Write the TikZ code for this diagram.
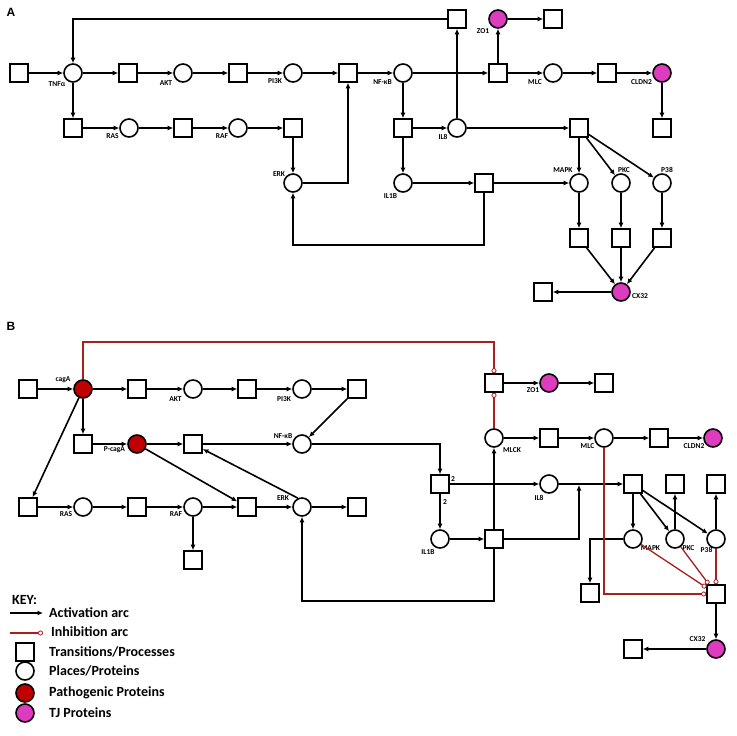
\documentclass[tikz,border=0pt]{standalone}
\usepackage{fontspec}
\setmainfont{Carlito}
\newfontfamily\arialfont{Liberation Sans}
\usetikzlibrary{arrows.meta}
\definecolor{pathred}{RGB}{192,0,0}
\definecolor{tjpink}{RGB}{222,60,190}
\definecolor{inhred}{RGB}{170,30,30}
\begin{document}
\begin{tikzpicture}[x=1pt,y=-1pt,
 tr/.style={draw,rectangle,minimum size=18pt,inner sep=0pt,line width=1.6pt,fill=white},
 pl/.style={draw,circle,minimum size=18pt,inner sep=0pt,line width=1.6pt,fill=white},
 pat/.style={pl,fill=pathred},
 tj/.style={pl,fill=tjpink},
 act/.style={line width=1.6pt,-{Latex[length=5.5pt,width=5pt]}},
 inh/.style={draw=inhred,line width=1.3pt,-{Circle[open,length=5pt,width=5pt,line width=0.8pt]}},
 lbl/.style={font=\bfseries\fontsize{7.5}{8}\selectfont,inner sep=0pt},
 keyt/.style={font=\bfseries\fontsize{14}{16}\selectfont,inner sep=0pt,anchor=west},
 panel/.style={font=\arialfont\bfseries\fontsize{12}{14}\selectfont,inner sep=0pt},
]
\useasboundingbox[fill=white] (0,0) rectangle (737,736);
\node[panel] (pA) at (11,12.5) {A};
\node[panel] (pB) at (11,326.5) {B};
% ================= Panel A =================
\node[tr] (a_t0) at (19,73) {};
\node[pl] (a_tnf) at (73,73) {};
\node[tr] (a_t1) at (128,73) {};
\node[pl] (a_akt) at (183,73) {};
\node[tr] (a_t2) at (238,73) {};
\node[pl] (a_pi3k) at (293,73) {};
\node[tr] (a_t3) at (348,73) {};
\node[pl] (a_nfkb) at (403,73) {};
\node[tr] (a_t4) at (498,73) {};
\node[tj] (a_zo1) at (498,19) {};
\node[tr] (a_t5) at (553,19) {};
\node[pl] (a_mlc) at (553,73) {};
\node[tr] (a_t6) at (607,73) {};
\node[tj] (a_cldn) at (662,73) {};
\node[tr] (a_t7) at (662,128) {};
\node[tr] (a_ttop) at (457,19) {};
\node[tr] (a_t8) at (73,128) {};
\node[pl] (a_ras) at (129,128) {};
\node[tr] (a_t9) at (183,128) {};
\node[pl] (a_raf) at (238,128) {};
\node[tr] (a_t10) at (293,128) {};
\node[pl] (a_erk) at (293,183) {};
\node[tr] (a_t11) at (403,128) {};
\node[pl] (a_il8) at (457,128) {};
\node[tr] (a_t12) at (579,128) {};
\node[pl] (a_il1b) at (403,183) {};
\node[tr] (a_t13) at (484,183) {};
\node[pl] (a_mapk) at (579,183) {};
\node[pl] (a_pkc) at (621,183) {};
\node[pl] (a_p38) at (662,183) {};
\node[tr] (a_t14) at (579,238) {};
\node[tr] (a_t15) at (621,238) {};
\node[tr] (a_t16) at (662,238) {};
\node[tj] (a_cx32) at (621,292) {};
\node[tr] (a_t17) at (543,292) {};
\coordinate (a_c1) at (293,245);
% labels A
\node[lbl] (la1) at (57,84) {TNFα};
\node[lbl] (la2) at (166,83) {AKT};
\node[lbl] (la3) at (275,81) {PI3K};
\node[lbl] (la4) at (112.5,136) {RAS};
\node[lbl] (la5) at (222,136) {RAF};
\node[lbl] (la6) at (279,174) {ERK};
\node[lbl] (la7) at (382.5,82) {NF-κB};
\node[lbl] (la8) at (483,31.5) {ZO1};
\node[lbl] (la9) at (535,82) {MLC};
\node[lbl] (la10) at (641.5,82) {CLDN2};
\node[lbl] (la11) at (443,136.5) {IL8};
\node[lbl] (la12) at (390.5,196.5) {IL1B};
\node[lbl] (la13) at (563,170) {MAPK};
\node[lbl] (la14) at (624,170) {PKC};
\node[lbl] (la15) at (667,170) {P38};
\node[lbl] (la16) at (640,296) {CX32};
% edges A
\draw[act] (a_t0) -- (a_tnf);
\draw[act] (a_tnf) -- (a_t1);
\draw[act] (a_t1) -- (a_akt);
\draw[act] (a_akt) -- (a_t2);
\draw[act] (a_t2) -- (a_pi3k);
\draw[act] (a_pi3k) -- (a_t3);
\draw[act] (a_t3) -- (a_nfkb);
\draw[act] (a_nfkb) -- (a_t4);
\draw[act] (a_t4) -- (a_zo1);
\draw[act] (a_zo1) -- (a_t5);
\draw[act] (a_t4) -- (a_mlc);
\draw[act] (a_mlc) -- (a_t6);
\draw[act] (a_t6) -- (a_cldn);
\draw[act] (a_cldn) -- (a_t7);
\draw[act] (a_tnf) -- (a_t8);
\draw[act] (a_t8) -- (a_ras);
\draw[act] (a_ras) -- (a_t9);
\draw[act] (a_t9) -- (a_raf);
\draw[act] (a_raf) -- (a_t10);
\draw[act] (a_t10) -- (a_erk);
\draw[act] (a_erk.east) -| (a_t3.south);
\draw[act] (a_nfkb) -- (a_t11);
\draw[act] (a_t11) -- (a_il8);
\draw[act] (a_il8) -- (a_ttop);
\draw[act] (a_ttop.west) -| (a_tnf.north);
\draw[act] (a_t11) -- (a_il1b);
\draw[act] (a_il8) -- (a_t12);
\draw[act] (a_il1b) -- (a_t13);
\draw[act] (a_t13) -- (a_mapk);
\draw[act] (a_t13.south) |- (a_c1) -- (a_erk.south);
\draw[act] (a_t12) -- (a_mapk);
\draw[act] (a_t12) -- (a_pkc);
\draw[act] (a_t12) -- (a_p38);
\draw[act] (a_mapk) -- (a_t14);
\draw[act] (a_pkc) -- (a_t15);
\draw[act] (a_p38) -- (a_t16);
\draw[act] (a_t14) -- (a_cx32);
\draw[act] (a_t15) -- (a_cx32);
\draw[act] (a_t16) -- (a_cx32);
\draw[act] (a_cx32) -- (a_t17);
% ================= Panel B =================
\node[tr] (b_t0) at (28,389) {};
\node[pat] (b_cag) at (83,389) {};
\node[tr] (b_t1) at (137,389) {};
\node[pl] (b_akt) at (193,389) {};
\node[tr] (b_t2) at (247,389) {};
\node[pl] (b_pi3k) at (302,389) {};
\node[tr] (b_t3) at (357,389) {};
\node[tr] (b_t4) at (83,444) {};
\node[pat] (b_pcag) at (137,444) {};
\node[tr] (b_t5) at (193,444) {};
\node[pl] (b_nfkb) at (302,444) {};
\node[tr] (b_t6) at (28,507) {};
\node[pl] (b_ras) at (83,507) {};
\node[tr] (b_t7) at (137,507) {};
\node[pl] (b_raf) at (193,507) {};
\node[tr] (b_t8) at (247,507) {};
\node[pl] (b_erk) at (302,507) {};
\node[tr] (b_t9) at (357,507) {};
\node[tr] (b_t10) at (193,560) {};
\node[tr] (b_tzo) at (494,383) {};
\node[tj] (b_zo1) at (549,383) {};
\node[tr] (b_t11) at (604,383) {};
\node[pl] (b_mlck) at (494,438) {};
\node[tr] (b_t12) at (549,438) {};
\node[pl] (b_mlc) at (604,438) {};
\node[tr] (b_t13) at (659,438) {};
\node[tj] (b_cldn) at (713,438) {};
\node[tr] (b_t14) at (440,484) {};
\node[pl] (b_il8) at (549,484) {};
\node[tr] (b_t15) at (633,484) {};
\node[tr] (b_t16) at (675,484) {};
\node[tr] (b_t17) at (716,484) {};
\node[pl] (b_il1b) at (440,539) {};
\node[tr] (b_t18) at (494,539) {};
\node[pl] (b_mapk) at (633,539) {};
\node[pl] (b_pkc) at (675,539) {};
\node[pl] (b_p38) at (716,539) {};
\node[tr] (b_t19) at (590,593) {};
\node[tr] (b_t20) at (716,594) {};
\node[tj] (b_cx32) at (716,649) {};
\node[tr] (b_t21) at (633,649) {};
\coordinate (b_j1) at (579,485);
\coordinate (b_c2) at (302,601);
\coordinate (b_c3) at (494,342);
% labels B
\node[lbl] (lb1) at (63,380) {cagA};
\node[lbl] (lb2) at (175.5,399) {AKT};
\node[lbl] (lb3) at (284,399) {PI3K};
\node[lbl] (lb4) at (114.5,450) {P-cagA};
\node[lbl] (lb5) at (283,436.5) {NF-κB};
\node[lbl] (lb6) at (66,514) {RAS};
\node[lbl] (lb7) at (176,514) {RAF};
\node[lbl] (lb8) at (283,498.5) {ERK};
\node[lbl] (lb9) at (512,450) {MLCK};
\node[lbl] (lb10) at (587.5,446.5) {MLC};
\node[lbl] (lb11) at (694,446.5) {CLDN2};
\node[lbl] (lb12) at (533,390) {ZO1};
\node[lbl] (lb13) at (453,479) {2};
\node[lbl] (lb14) at (445,502.5) {2};
\node[lbl] (lb15) at (539,498) {IL8};
\node[lbl] (lb16) at (428,552.5) {IL1B};
\node[lbl] (lb17) at (650.5,548) {MAPK};
\node[lbl] (lb18) at (688.5,548) {PKC};
\node[lbl] (lb19) at (706.5,550) {P38};
\node[lbl] (lb20) at (697.5,639) {CX32};
% edges B
\draw[act] (b_t0) -- (b_cag);
\draw[act] (b_cag) -- (b_t1);
\draw[act] (b_t1) -- (b_akt);
\draw[act] (b_akt) -- (b_t2);
\draw[act] (b_t2) -- (b_pi3k);
\draw[act] (b_pi3k) -- (b_t3);
\draw[act] (b_t3) -- (b_nfkb);
\draw[act] (b_cag) -- (b_t4);
\draw[act] (b_cag) -- (b_t6);
\draw[act] (b_t4) -- (b_pcag);
\draw[act] (b_pcag) -- (b_t5);
\draw[act] (b_pcag) -- (b_t8);
\draw[act] (b_t5) -- (b_nfkb);
\draw[act] (b_erk.115) -- (b_t5);
\draw[act] (b_t6) -- (b_ras);
\draw[act] (b_ras) -- (b_t7);
\draw[act] (b_t7) -- (b_raf);
\draw[act] (b_raf) -- (b_t8);
\draw[act] (b_raf) -- (b_t10);
\draw[act] (b_t8) -- (b_erk);
\draw[act] (b_erk) -- (b_t9);
\draw[act] (b_nfkb.east) -| (b_t14.north);
\draw[act] (b_t14) -- (b_il8);
\draw[act] (b_t14) -- (b_il1b);
\draw[act] (b_il8) -- (b_t15);
\draw[act] (b_il1b) -- (b_t18);
\draw[act] (b_t18) -- (b_mlck);
\draw[act] (b_t18.east) -| (b_j1);
\draw[act] (b_t18.south) |- (b_c2) -- (b_erk.south);
\draw[act] (b_mlck) -- (b_t12);
\draw[act] (b_t12) -- (b_mlc);
\draw[act] (b_mlc) -- (b_t13);
\draw[act] (b_t13) -- (b_cldn);
\draw[act] (b_tzo) -- (b_zo1);
\draw[act] (b_zo1) -- (b_t11);
\draw[act] (b_t15) -- (b_mapk);
\draw[act] (b_t15) -- (b_pkc);
\draw[act] (b_t15) -- (b_p38);
\draw[act] (b_pkc) -- (b_t16);
\draw[act] (b_p38) -- (b_t17);
\draw[act] (b_mapk.west) -| (b_t19.north);
\draw[act] (b_t20) -- (b_cx32);
\draw[act] (b_cx32) -- (b_t21);
% inhibition arcs
\draw[inh] (b_cag.north) |- (b_c3) -- (b_tzo.north);
\draw[inh] (b_mlck) -- (b_tzo);
\draw[inh] (b_mlc.south) |- (b_t20.west);
\draw[inh] (b_mapk) -- (b_t20);
\draw[inh] (b_pkc) -- (b_t20);
\draw[inh] (b_p38) -- (b_t20);
% ================= Key =================
\node[keyt] (kkey) at (12,600) {KEY:};
\coordinate (k1a) at (10,613);
\coordinate (k1b) at (43,613);
\coordinate (k2a) at (10,633);
\coordinate (k2b) at (43,633);
\draw[act] (k1a) -- (k1b);
\draw[inh] (k2a) -- (k2b);
\node[keyt] (kt1) at (49,613) {Activation arc};
\node[keyt] (kt2) at (51,632) {Inhibition arc};
\node[tr] (ks1) at (25,652) {};
\node[keyt] (kt3) at (49,652) {Transitions/Processes};
\node[pl] (ks2) at (25,671) {};
\node[keyt] (kt4) at (49,671) {Places/Proteins};
\node[pat] (ks3) at (25,693) {};
\node[keyt] (kt5) at (49,693) {Pathogenic Proteins};
\node[tj] (ks4) at (25,713) {};
\node[keyt] (kt6) at (49,713) {TJ Proteins};
\end{tikzpicture}
\end{document}
